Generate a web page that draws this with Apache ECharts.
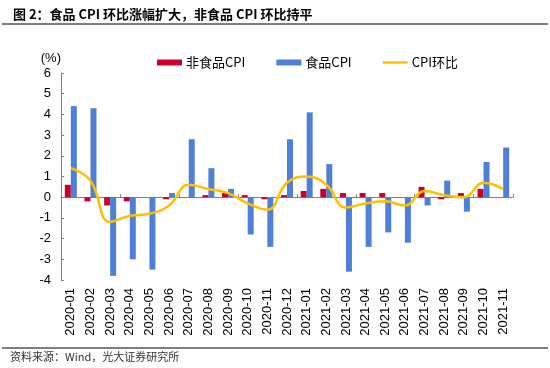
<!DOCTYPE html>
<html>
<head>
<meta charset="utf-8">
<script src="https://cdn.jsdelivr.net/npm/echarts@6/dist/echarts.min.js"></script>
<style>html,body{margin:0;padding:0;background:#fff;}#c{width:550px;height:368px;}</style>
</head>
<body>
<div id="c"></div>
<script>
const categories = ['2020-01','2020-02','2020-03','2020-04','2020-05','2020-06','2020-07','2020-08','2020-09','2020-10','2020-11','2020-12','2021-01','2021-02','2021-03','2021-04','2021-05','2021-06','2021-07','2021-08','2021-09','2021-10','2021-11'];
const nonFoodCPI = [0.6,-0.2,-0.4,-0.2,0,-0.1,0,0.1,0.2,0.1,-0.1,0.1,0.3,0.4,0.2,0.2,0.2,0,0.5,-0.1,0.2,0.4,0];
const foodCPI = [4.4,4.3,-3.8,-3.0,-3.5,0.2,2.8,1.4,0.4,-1.8,-2.4,2.8,4.1,1.6,-3.6,-2.4,-1.7,-2.2,-0.4,0.8,-0.7,1.7,2.4];
const cpiMoM = [1.4,0.8,-1.2,-0.9,-0.8,-0.4,0.6,0.4,0.2,-0.3,-0.6,0.7,1.0,0.6,-0.5,-0.3,-0.2,-0.4,0.3,0.1,0.0,0.7,0.4];
const yTicks = {min:-4, max:6, interval:1};

const chart = echarts.init(document.getElementById('c'), null, {renderer:'canvas'});
const latin = 'Liberation Sans, Arial, Noto Sans CJK SC, sans-serif';
chart.setOption({
  animation:false,
  backgroundColor:'#fff',
  title:{
    text:'图 2：食品 CPI 环比涨幅扩大，非食品 CPI 环比持平',
    left:8, top:3,
    textStyle:{fontSize:13, fontWeight:'bold', color:'#000', fontFamily:'Noto Sans CJK SC, sans-serif'}
  },
  graphic:[
    {type:'line', shape:{x1:2,y1:24,x2:548,y2:24}, style:{stroke:'#555', lineWidth:1.5}},
    {type:'line', shape:{x1:2,y1:348,x2:548,y2:348}, style:{stroke:'#555', lineWidth:1.5}},
    {type:'text', left:10, top:351, style:{text:'资料来源：Wind，光大证券研究所', fontSize:11, fill:'#333', fontFamily:'Noto Sans CJK SC, sans-serif'}}
  ],
  legend:{
    left:152, top:51,
    itemWidth:25, itemHeight:6, itemGap:31,
    textStyle:{fontSize:13, color:'#000', fontFamily:'Noto Sans CJK SC, sans-serif', padding:[0,0,0,-1]},
    data:[
      {name:'非食品CPI', icon:'rect'},
      {name:'食品CPI', icon:'rect'},
      {name:'CPI环比', icon:'path://M0,0 L25,0 L25,2.5 L0,2.5 Z'}
    ]
  },
  grid:{left:61, right:37, top:73, bottom:88, containLabel:false},
  xAxis:[
    {type:'category', data:categories, position:'bottom',
     axisLine:{show:true, onZero:true, lineStyle:{color:'#808080', width:1}},
     axisTick:{show:true, inside:true, length:3, lineStyle:{color:'#808080'}},
     axisLabel:{show:false}, splitLine:{show:false}},
    {type:'category', data:categories, position:'bottom',
     axisLine:{show:false, onZero:false}, axisTick:{show:false},
     axisLabel:{show:true, rotate:90, margin:8, fontSize:13, color:'#000', fontFamily:latin, interval:0},
     splitLine:{show:false}}
  ],
  yAxis:{
    type:'value', min:yTicks.min, max:yTicks.max, interval:yTicks.interval,
    name:'(%)', nameLocation:'end', nameGap:8,
    nameTextStyle:{align:'right', fontSize:13, color:'#000', fontFamily:latin},
    axisLine:{show:true, lineStyle:{color:'#808080'}},
    axisTick:{show:true, inside:true, length:3, lineStyle:{color:'#808080'}},
    axisLabel:{fontSize:13, color:'#000', margin:10, fontFamily:latin},
    splitLine:{show:false}
  },
  series:[
    {name:'非食品CPI', type:'bar', data:nonFoodCPI, barWidth:6, barGap:'0%', itemStyle:{color:'#C9002F'}},
    {name:'食品CPI', type:'bar', data:foodCPI, barWidth:6, barGap:'0%', itemStyle:{color:'#4F7FD6'}},
    {name:'CPI环比', type:'line', data:cpiMoM, smooth:0.45, symbol:'none', lineStyle:{color:'#FFC000', width:2.5}, itemStyle:{color:'#FFC000'}, z:5}
  ]
});
</script>
</body>
</html>
